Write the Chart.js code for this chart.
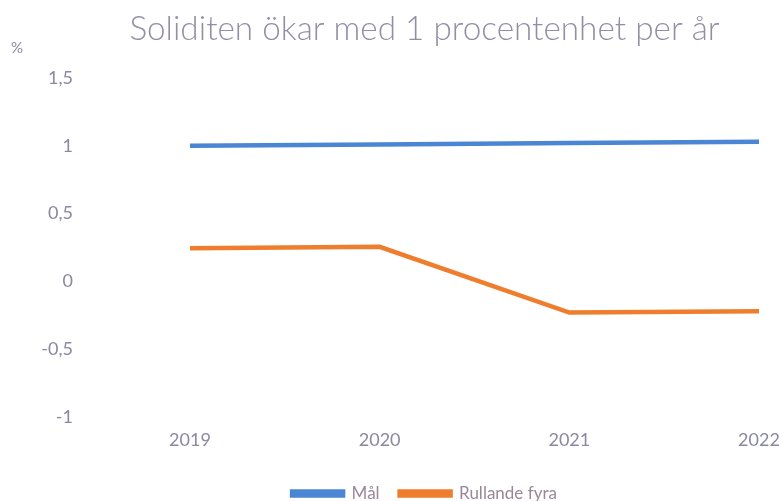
<!DOCTYPE html>
<html>
<head>
<meta charset="utf-8">
<script src="https://cdn.jsdelivr.net/npm/chart.js@4"></script>
<style>
  html, body { margin: 0; padding: 0; background: #fff; }
  #wrap { width: 783px; height: 501px; position: relative; }
</style>
</head>
<body>
<div id="wrap"><canvas id="chart"></canvas></div>
<script>
'use strict';

/* ─── data ─── */
var years = ['2019', '2020', '2021', '2022'];
var malValues = [1.0, 1.01, 1.02, 1.03];
var rullandeValues = [0.245, 0.255, -0.23, -0.22];
var seriesNames = ['Mål', 'Rullande fyra'];

var TEXT_COLOR = '#8a88a2';
var FONT = 'Lato, "Open Sans", sans-serif';

/* ─── "%" label above the y axis, and title/legend nudged right ─── */
var unitLabel = {
  id: 'unitLabel',
  afterLayout: function (chart) {
    if (chart.titleBlock) chart.titleBlock.left += 66;
    if (chart.legend) chart.legend.left += 66;
  },
  afterDraw: function (chart) {
    var ctx = chart.ctx;
    ctx.save();
    ctx.fillStyle = TEXT_COLOR;
    ctx.font = '15px ' + FONT;
    ctx.textAlign = 'left';
    ctx.textBaseline = 'middle';
    ctx.fillText('%', 11, 48);
    ctx.restore();
  }
};

new Chart(document.getElementById('chart'), {
  type: 'line',
  data: {
    labels: years,
    datasets: [
      {
        label: seriesNames[0],
        data: malValues,
        borderColor: '#4a86d4',
        backgroundColor: '#4a86d4',
        borderWidth: 4.5,
        pointRadius: 0,
        tension: 0
      },
      {
        label: seriesNames[1],
        data: rullandeValues,
        borderColor: '#ef7d2e',
        backgroundColor: '#ef7d2e',
        borderWidth: 4.5,
        pointRadius: 0,
        tension: 0
      }
    ]
  },
  options: {
    responsive: true,
    maintainAspectRatio: false,
    animation: false,
    layout: { padding: { left: 0, right: 0, top: 9, bottom: -11 } },
    plugins: {
      title: {
        display: true,
        text: 'Soliditen ökar med 1 procentenhet per år',
        color: '#918fa4',
        font: { family: FONT, size: 33.3, weight: 300 },
        padding: { top: 0, bottom: 29 }
      },
      legend: {
        position: 'bottom',
        labels: {
          color: '#9a8898',
          font: { family: FONT, size: 17 },
          boxWidth: 51,
          boxHeight: 4,
          padding: 20
        }
      },
      tooltip: { enabled: false }
    },
    scales: {
      x: {
        offset: false,
        grid: { display: false, drawTicks: false },
        border: { display: false },
        afterFit: function (scale) {
          scale.height = 48;
          scale.paddingRight = 24;
        },
        ticks: {
          color: TEXT_COLOR,
          font: { family: FONT, size: 18 },
          padding: 12,
          maxRotation: 0
        }
      },
      y: {
        min: -1,
        max: 1.5,
        grid: { display: false, drawTicks: false },
        border: { display: false },
        afterFit: function (scale) {
          scale.width = 190;
          scale.paddingTop = 10;
          scale.paddingBottom = 10;
        },
        ticks: {
          stepSize: 0.5,
          color: TEXT_COLOR,
          font: { family: FONT, size: 18 },
          padding: 117,
          callback: function (v) { return String(v).replace('.', ','); }
        }
      }
    }
  },
  plugins: [unitLabel]
});
</script>
</body>
</html>
